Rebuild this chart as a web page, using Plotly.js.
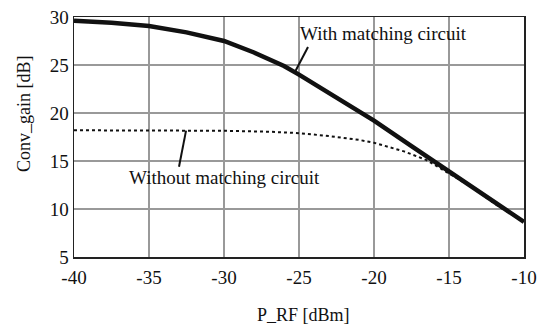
<!DOCTYPE html>
<html>
<head>
<meta charset="utf-8">
<script src="https://cdn.plot.ly/plotly-3.0.1.min.js"></script>
<style>html,body{margin:0;padding:0;background:#fff;}#chart{width:545px;height:335px;}</style>
</head>
<body>
<div id="chart"></div>
<script>
const withX = [-40, -37.5, -35, -32.5, -30, -28, -26, -25, -22.5, -20, -17.5, -15, -12.5, -10];
const withY = [29.6, 29.4, 29.07, 28.4, 27.5, 26.3, 24.9, 24.0, 21.6, 19.2, 16.55, 13.95, 11.3, 8.66];
const withoutX = [-40, -35, -32, -30, -27, -25, -23, -21, -20, -18, -16.5, -15, -13.5, -12, -11, -10];
const withoutY = [18.2, 18.2, 18.2, 18.15, 18.05, 17.9, 17.6, 17.2, 16.9, 16.0, 15.1, 13.7, 12.3, 10.6, 9.6, 8.7];
const xTicks = [-40, -35, -30, -25, -20, -15, -10];
const yTicks = [5, 10, 15, 20, 25, 30];
const labelWith = "With matching circuit";
const labelWithout = "Without matching circuit";
const xTitle = "P_RF [dBm]";
const yTitle = "Conv_gain [dB]";

const FONT = "Liberation Serif, Times New Roman, serif";

const traces = [
  {x: withoutX, y: withoutY, mode: 'lines', line: {color: '#111', width: 2, dash: 'dot'}, hoverinfo: 'skip'},
  {x: withX, y: withY, mode: 'lines', line: {color: '#111', width: 4.5}, hoverinfo: 'skip'}
];

const layout = {
  width: 545, height: 335,
  margin: {l: 74, r: 21, t: 17, b: 78},
  paper_bgcolor: '#fff', plot_bgcolor: '#fff',
  showlegend: false,
  font: {family: FONT, size: 18, color: '#111'},
  xaxis: {
    range: [-40, -10], tickmode: 'array', tickvals: xTicks, ticktext: xTicks.map(String),
    showgrid: true, gridcolor: '#999999', gridwidth: 1.5,
    showline: true, linecolor: '#222', linewidth: 1.5, mirror: true,
    zeroline: false, ticklabelstandoff: 3,
    tickfont: {family: FONT, size: 19, color: '#111'}
  },
  yaxis: {
    range: [5, 30], tickmode: 'array', tickvals: yTicks, ticktext: yTicks.map(String),
    showgrid: true, gridcolor: '#999999', gridwidth: 1.5,
    showline: true, linecolor: '#222', linewidth: 1.5, mirror: true,
    zeroline: false,
    tickfont: {family: FONT, size: 19, color: '#111'}
  },
  shapes: [
    {type: 'line', xref: 'x', yref: 'y', x0: -24.4, y0: 26.875, x1: -25.27, y1: 24.27, line: {color: '#111', width: 2}},
    {type: 'line', xref: 'x', yref: 'y', x0: -32.53, y0: 18.16, x1: -33.0, y1: 14.4, line: {color: '#111', width: 2}}
  ],
  annotations: [
    {x: -19.4, y: 28.33, xref: 'x', yref: 'y', text: labelWith, showarrow: false,
     font: {family: FONT, size: 19, color: '#111'}, xanchor: 'center', yanchor: 'middle'},
    {x: -30.0, y: 13.23, xref: 'x', yref: 'y', text: labelWithout, showarrow: false,
     font: {family: FONT, size: 19, color: '#111'}, xanchor: 'center', yanchor: 'middle'},
    {x: 0.509, y: -0.242, xref: 'paper', yref: 'paper', text: xTitle, showarrow: false,
     font: {family: FONT, size: 18, color: '#111'}, xanchor: 'center', yanchor: 'middle'},
    {x: -0.111, y: 0.596, xref: 'paper', yref: 'paper', text: yTitle, showarrow: false, textangle: -90,
     font: {family: FONT, size: 18, color: '#111'}, xanchor: 'center', yanchor: 'middle'}
  ]
};

Plotly.newPlot('chart', traces, layout, {staticPlot: true, displayModeBar: false});
</script>
</body>
</html>
